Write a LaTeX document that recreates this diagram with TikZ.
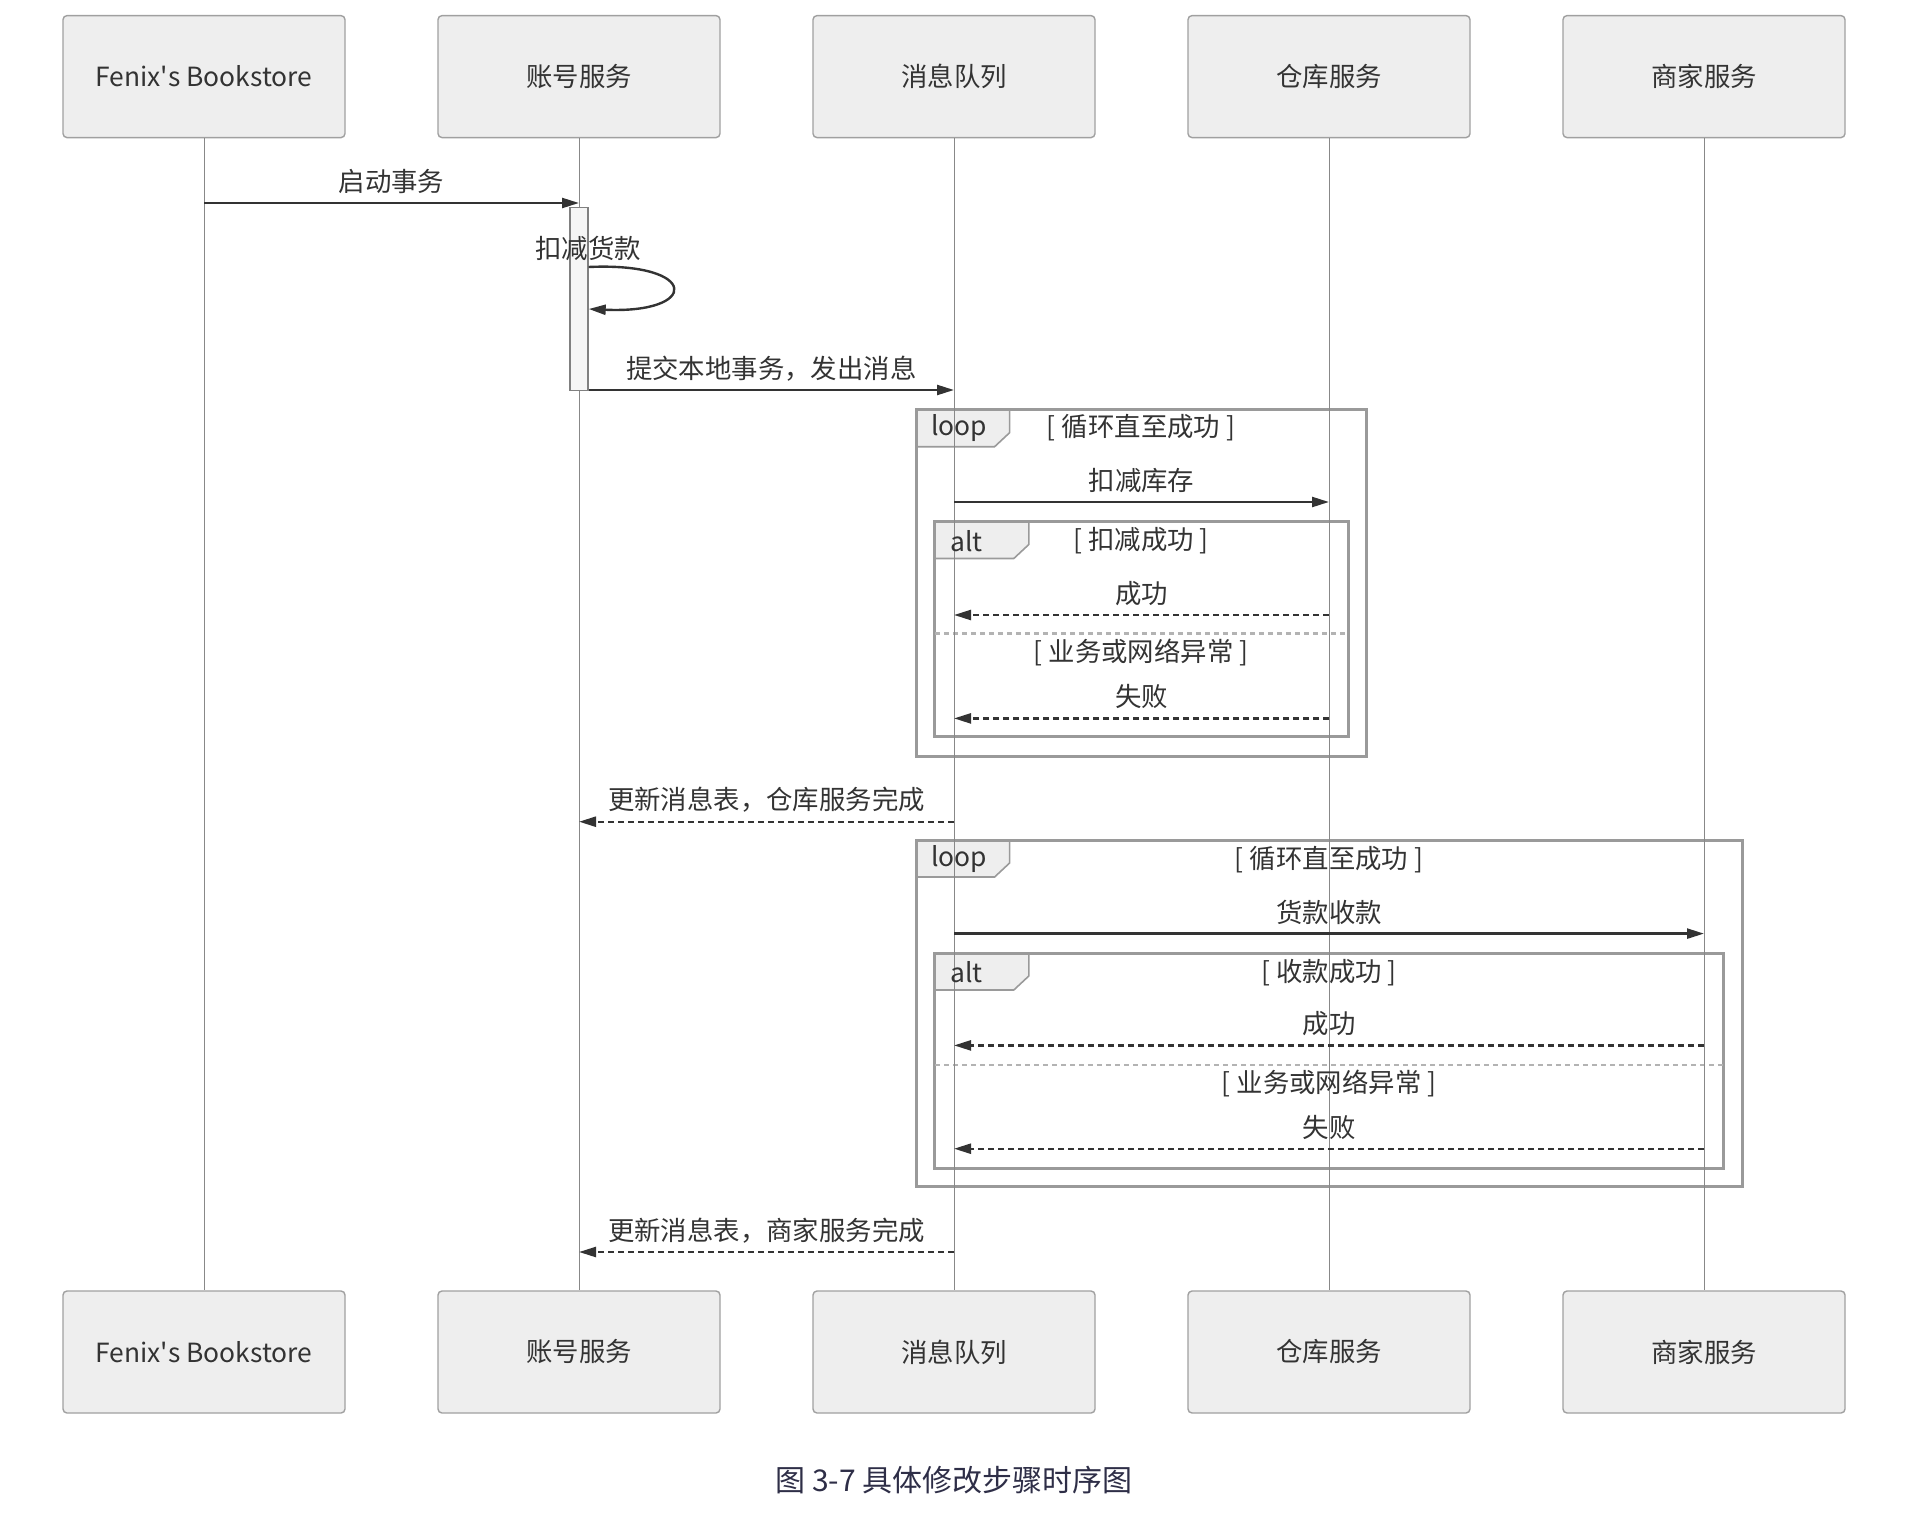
\documentclass[tikz,border=0pt]{standalone}
\usepackage{fontspec}
\setmainfont{Noto Sans CJK SC}
\usetikzlibrary{arrows.meta}
\definecolor{boxfill}{HTML}{EEEEEE}
\definecolor{boxline}{HTML}{A0A0A0}
\definecolor{frameline}{HTML}{9A9A9A}
\definecolor{lifec}{HTML}{888888}
\definecolor{inkc}{HTML}{333333}
\tikzset{
  actor/.style={draw=boxline, line width=0.7pt, fill=boxfill, rounded corners=2pt,
    minimum width=141pt, minimum height=61pt, text=inkc, font=\fontsize{13.2}{16}\selectfont},
  lbl/.style={text=inkc, font=\fontsize{13.2}{16}\selectfont, inner sep=1pt},
  life/.style={draw=lifec, line width=0.5pt},
  msg/.style={draw=inkc, line width=1.2pt, -{Triangle[length=8.5pt,width=5pt]}},
  ret/.style={msg, dash pattern=on 3pt off 2pt},
  frame/.style={draw=frameline, line width=1.5pt},
  tab/.style={draw=frameline, line width=0.8pt, fill=boxfill},
  sep/.style={draw=frameline!75, line width=1.2pt, dash pattern=on 2.5pt off 2pt},
  actbox/.style={draw=gray, line width=0.7pt, fill=boxfill!60, minimum width=9pt,
    minimum height=91.7pt, inner sep=0pt, anchor=north}
}

\begin{document}
\begin{tikzpicture}[x=0.5pt,y=-0.5pt]
\useasboundingbox (0,0) rectangle (1906,1514);
\node[actor] (bookT) at (204,76.6) {Fenix\textquotesingle s Bookstore};
\node[actor] (accT) at (579,76.6) {账号服务};
\node[actor] (mqT) at (954,76.6) {消息队列};
\node[actor] (whT) at (1329,76.6) {仓库服务};
\node[actor] (shopT) at (1704,76.6) {商家服务};
\node[actor] (bookB) at (204,1352) {Fenix\textquotesingle s Bookstore};
\node[actor] (accB) at (579,1352) {账号服务};
\node[actor] (mqB) at (954,1352) {消息队列};
\node[actor] (whB) at (1329,1352) {仓库服务};
\node[actor] (shopB) at (1704,1352) {商家服务};
\draw[tab] (916.6,409.7) -- ++(93,0) -- ++(0,23) -- ++(-15,14) -- ++(-78,0) -- cycle;
\draw[frame] (916.6,409.7) rectangle (1366.3,756);
\draw[tab] (934.8,521.5) -- ++(94,0) -- ++(0,23) -- ++(-15,14) -- ++(-79,0) -- cycle;
\draw[frame] (934.8,521.5) rectangle (1348,736.7);
\draw[sep] (934.8,633.3) -- (1348,633.3);
\draw[tab] (916.6,840) -- ++(93,0) -- ++(0,23) -- ++(-15,14) -- ++(-78,0) -- cycle;
\draw[frame] (916.6,840) rectangle (1742,1186.4);
\draw[tab] (934.8,953) -- ++(94,0) -- ++(0,23) -- ++(-15,14) -- ++(-79,0) -- cycle;
\draw[frame] (934.8,953) rectangle (1723.7,1168);
\draw[sep] (934.8,1064.9) -- (1723.7,1064.9);
\draw[life] (bookT) -- (bookB);
\draw[life] (accT) -- (accB);
\draw[life] (mqT) -- (mqB);
\draw[life] (whT) -- (whB);
\draw[life] (shopT) -- (shopB);
\coordinate (r1) at (0,203);
\coordinate (s1) at (0,267);
\coordinate (s2) at (0,309);
\coordinate (r2) at (0,390);
\coordinate (r3) at (0,502);
\coordinate (r4) at (0,615);
\coordinate (r5) at (0,718.4);
\coordinate (r6) at (0,821.7);
\coordinate (r7) at (0,933.6);
\coordinate (r8) at (0,1045.4);
\coordinate (r9) at (0,1148.7);
\coordinate (r10) at (0,1252);
\node[actbox] (act) at (579,206.6) {};
\draw[msg] (bookT |- r1) -- (accT |- r1) node[lbl, midway, yshift=10.8pt] {启动事务};
\draw[msg] (act.east |- s1) .. controls (700,262) and (700,314) .. (act.east |- s2);
\node[lbl] (selfl) at (588,248) {扣减货款};
\draw[msg] (act.east |- r2) -- (mqT |- r2) node[lbl, midway, yshift=10.8pt] {提交本地事务，发出消息};
\node[lbl, anchor=west] (loop1) at (929,428) {loop};
\node[lbl] (g1) at (1141,428) {[ 循环直至成功 ]};
\draw[msg] (mqT |- r3) -- (whT |- r3) node[lbl, midway, yshift=10.8pt] {扣减库存};
\node[lbl, anchor=west] (alt1) at (948,541) {alt};
\node[lbl] (g2) at (1141,541) {[ 扣减成功 ]};
\draw[ret] (whT |- r4) -- (mqT |- r4) node[lbl, midway, yshift=10.8pt] {成功};
\node[lbl] (g3) at (1141,652.8) {[ 业务或网络异常 ]};
\draw[ret] (whT |- r5) -- (mqT |- r5) node[lbl, midway, yshift=10.8pt] {失败};
\draw[ret] (mqT |- r6) -- (accT |- r6) node[lbl, midway, yshift=10.8pt] {更新消息表，仓库服务完成};
\node[lbl, anchor=west] (loop2) at (929,859.4) {loop};
\node[lbl] (g4) at (1329,859.4) {[ 循环直至成功 ]};
\draw[msg] (mqT |- r7) -- (shopT |- r7) node[lbl, midway, yshift=10.8pt] {货款收款};
\node[lbl, anchor=west] (alt2) at (948,972.5) {alt};
\node[lbl] (g5) at (1329,972.5) {[ 收款成功 ]};
\draw[ret] (shopT |- r8) -- (mqT |- r8) node[lbl, midway, yshift=10.8pt] {成功};
\node[lbl] (g6) at (1329,1083) {[ 业务或网络异常 ]};
\draw[ret] (shopT |- r9) -- (mqT |- r9) node[lbl, midway, yshift=10.8pt] {失败};
\draw[ret] (mqT |- r10) -- (accT |- r10) node[lbl, midway, yshift=10.8pt] {更新消息表，商家服务完成};
\node[text=inkc!90!blue, font=\fontsize{15}{18}\selectfont] (cap) at (954,1480) {图 3-7 具体修改步骤时序图};
\end{tikzpicture}
\end{document}
